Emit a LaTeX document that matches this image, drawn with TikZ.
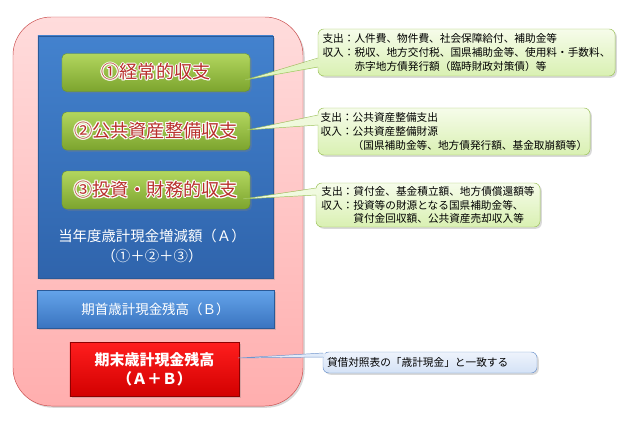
\documentclass[tikz,border=0pt]{standalone}
\usepackage{fontspec}
\setmainfont{Noto Sans CJK JP}
\usepackage{contour}
\contourlength{0.9pt}
\contournumber{8}
\usepackage{tikz}
\usetikzlibrary{shadows}
\definecolor{pinkTop}{HTML}{FFDCDC}
\definecolor{pinkBot}{HTML}{FFAEAE}
\definecolor{pinkLine}{HTML}{C84848}
\definecolor{blueTop}{HTML}{4382CE}
\definecolor{blueBot}{HTML}{2F64AC}
\definecolor{blueLine}{HTML}{2A5A98}
\definecolor{lblueTop}{HTML}{64A4EA}
\definecolor{lblueBot}{HTML}{3A74C0}
\definecolor{greenTop}{HTML}{B2D65E}
\definecolor{greenBot}{HTML}{7CA42E}
\definecolor{greenLine}{HTML}{6E9628}
\definecolor{redTop}{HTML}{FF1E1E}
\definecolor{redBot}{HTML}{D20000}
\definecolor{redLine}{HTML}{8E0000}
\definecolor{titleRed}{HTML}{B8302C}
\definecolor{noteTop}{HTML}{F6FCEA}
\definecolor{noteBot}{HTML}{D9F0B2}
\definecolor{noteGreenLine}{HTML}{9CC25A}
\definecolor{noteBlueTop}{HTML}{EEF3FC}
\definecolor{noteBlueBot}{HTML}{D4E2F6}
\definecolor{noteBlueLine}{HTML}{6E94CC}
\tikzset{
  box/.style = {align=center, inner sep=0pt, text centered},
  soft_shadow/.style = {drop shadow={shadow xshift=1.5pt, shadow yshift=-1.5pt,
    opacity=0.3}},
  outer_box/.style = {box, draw=pinkLine, top color=pinkTop, bottom color=pinkBot,
    rounded corners=1.15cm, minimum width=8.7cm, minimum height=11.67cm,
    soft_shadow},% cadre rose
  sum_box/.style = {box, draw=blueLine, top color=blueTop, bottom color=blueBot,
    minimum width=7.05cm, minimum height=7.26cm, soft_shadow},% bloc (A)
  green_box/.style = {box, draw=greenLine, top color=greenTop,
    bottom color=greenBot, rounded corners=4pt, minimum width=5.64cm,
    minimum height=1.14cm, text=titleRed,
    font=\fontsize{15.5}{18}\selectfont, soft_shadow},% trois soldes
  start_box/.style = {box, draw=blueLine, top color=lblueTop, bottom color=lblueBot,
    minimum width=7.11cm, minimum height=1.14cm, text=white,
    font=\fontsize{11.5}{14}\selectfont, soft_shadow},% solde (B)
  end_box/.style = {box, draw=redLine, top color=redTop, bottom color=redBot,
    minimum width=5.07cm, minimum height=1.62cm, text=white,
    font=\fontsize{12.8}{16}\selectfont\bfseries, soft_shadow},% solde final
  note_box/.style = {align=left, inner sep=0pt, rounded corners=5pt,
    font=\fontsize{9.1}{11.6}\selectfont, soft_shadow},
  green_note/.style = {note_box, draw=noteGreenLine, top color=noteTop,
    bottom color=noteBot},
  blue_note/.style = {note_box, draw=noteBlueLine, top color=noteBlueTop,
    bottom color=noteBlueBot},
  green_wedge/.style = {draw=noteGreenLine},
  blue_wedge/.style = {draw=noteBlueLine}
}
\newcommand{\indentline}{\phantom{収入：}}

\begin{document}
\begin{tikzpicture}[x=0.03cm, y=-0.03cm]
  \useasboundingbox (0,0) rectangle (627,421);
  \node [outer_box] (frame) at (158,211.5) {};
  \node [sum_box] (sumA) at (155.5,157) {};
  \node [green_box] (g1) at (156,72.5) {\contour{white}{①経常的収支}};
  \node [green_box] (g2) at (156,131) {\contour{white}{②公共資産整備収支}};
  \node [green_box] (g3) at (156,190) {\contour{white}{③投資・財務的収支}};
  \node [box, text=white, font=\fontsize{12.3}{17}\selectfont] (labelA)
    at (152,246) {当年度歳計現金増減額（Ａ）\\（①＋②＋③）};
  \node [start_box] (startB) at (155.5,309) {期首歳計現金残高（Ｂ）};
  \node [end_box] (endAB) at (154.5,369) {期末歳計現金残高\\（Ａ＋Ｂ）};

  \node [green_note, minimum width=8.91cm, minimum height=1.41cm] (n1)
    at (466.5,52.5) {支出：人件費、物件費、社会保障給付、補助金等\\
    収入：税収、地方交付税、国県補助金等、使用料・手数料、\\
    \indentline 赤字地方債発行額（臨時財政対策債）等};
  \node [green_note, minimum width=8.16cm, minimum height=1.41cm] (n2)
    at (454,131.5) {支出：公共資産整備支出\\
    収入：公共資産整備財源\\
    \indentline （国県補助金等、地方債発行額、基金取崩額等）};
  \node [green_note, minimum width=6.72cm, minimum height=1.32cm] (n3)
    at (428,205) {支出：貸付金、基金積立額、地方債償還額等\\
    収入：投資等の財源となる国県補助金等、\\
    \indentline 貸付金回収額、公共資産売却収入等};
  \node [blue_note, minimum width=6.42cm, minimum height=0.63cm,
    text width=6.18cm] (n4) at (430,362.5) {貸借対照表の「歳計現金」と一致する};

  % pointes des bulles
  \coordinate (p1) at (245,80);
  \coordinate (p1a) at (318,58);
  \coordinate (p1b) at (318,67);
  \coordinate (p2) at (247,130);
  \coordinate (p2a) at (318,115);
  \coordinate (p2b) at (318,125);
  \coordinate (p3) at (243,199);
  \coordinate (p3a) at (316,188);
  \coordinate (p3b) at (316,195);
  \coordinate (p4) at (238,358);
  \coordinate (p4a) at (323,353);
  \coordinate (p4b) at (323,357);
  \fill [noteTop!30!noteBot] (p1) -- ([xshift=2pt]p1a) -- ([xshift=2pt]p1b) -- cycle;
  \draw [green_wedge] (p1a) -- (p1) -- (p1b);
  \fill [noteTop!75!noteBot] (p2) -- ([xshift=2pt]p2a) -- ([xshift=2pt]p2b) -- cycle;
  \draw [green_wedge] (p2a) -- (p2) -- (p2b);
  \fill [noteTop!80!noteBot] (p3) -- ([xshift=2pt]p3a) -- ([xshift=2pt]p3b) -- cycle;
  \draw [green_wedge] (p3a) -- (p3) -- (p3b);
  \fill [noteBlueTop!50!noteBlueBot] (p4) -- ([xshift=2pt]p4a) -- ([xshift=2pt]p4b) -- cycle;
  \draw [blue_wedge] (p4a) -- (p4) -- (p4b);
\end{tikzpicture}
\end{document}
